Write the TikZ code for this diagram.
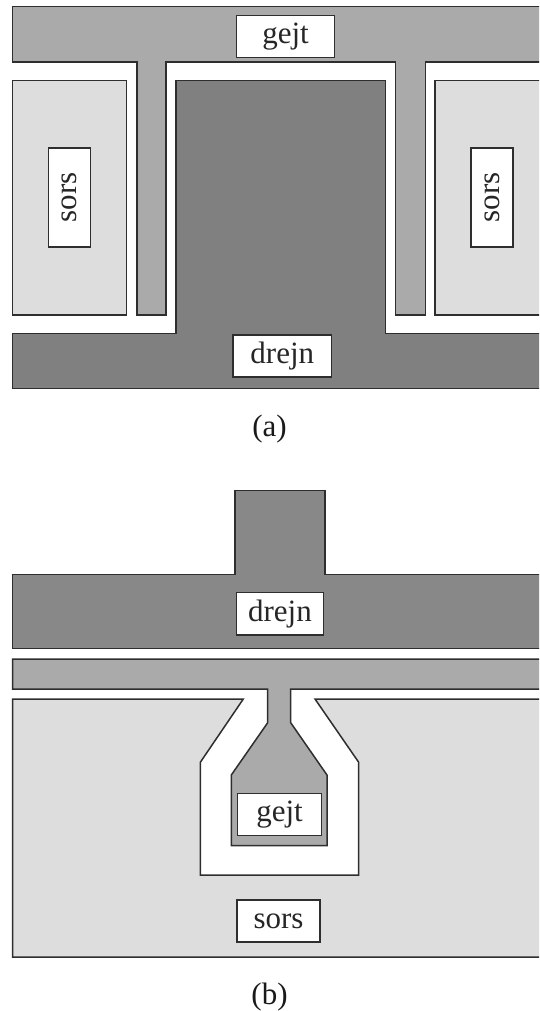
\documentclass[tikz,border=0pt]{standalone}
\usepackage{fontspec}
\setmainfont{Liberation Serif}
\definecolor{gatec}{HTML}{AAAAAA}
\definecolor{drainc}{HTML}{808080}
\definecolor{drainb}{HTML}{888888}
\definecolor{sourcec}{HTML}{DDDDDD}
\definecolor{edgec}{HTML}{2E2E2E}
\tikzset{
  region/.style={draw=edgec,line width=1.5pt,line join=miter},
  tag/.style={draw=edgec,fill=white,line width=1.4pt,inner sep=0pt,font=\fontsize{31}{36}\selectfont,text=black!85},
  caption/.style={inner sep=0pt,font=\fontsize{31}{36}\selectfont,text=black!90}
}
\begin{document}
\begin{tikzpicture}[x=1pt,y=-1pt]
\useasboundingbox (0,0) rectangle (539,1011);
\clip (0,0) rectangle (539,1011);
% (a)
\path[region,fill=gatec] (550,6.5) -- (12.5,6.5) -- (12.5,62) -- (136.8,62) -- (136.8,315) -- (165.8,315) -- (165.8,62) -- (395.5,62) -- (395.5,315) -- (425.5,315) -- (425.5,62) -- (550,62);
\path[region,fill=sourcec] (12.5,80.5) rectangle (126.5,315);
\path[region,fill=sourcec] (550,80.5) -- (435,80.5) -- (435,315) -- (550,315);
\path[region,fill=drainc] (176,80.5) -- (385.7,80.5) -- (385.7,333.5) -- (550,333.5) -- (550,388.7) -- (12.5,388.7) -- (12.5,333.5) -- (176,333.5) -- cycle;
\node[tag,minimum width=98pt,minimum height=42pt] (gejtA) at (285.6,36.5) {gejt};
\node[tag,rotate=90,minimum width=99pt,minimum height=42pt] (sorsL) at (69.5,197.5) {sors};
\node[tag,rotate=90,minimum width=99pt,minimum height=42pt] (sorsR) at (492,197.5) {sors};
\node[tag,minimum width=98.5pt,minimum height=42pt] (drejnA) at (282.3,356) {\raisebox{-2pt}{drejn}};
\node[caption] (capA) at (269.5,429) {(a)};
% (b)
\path[region,fill=drainb] (235,574.7) -- (235,490.7) -- (325,490.7) -- (325,574.7) -- (550,574.7) -- (550,648.3) -- (12.5,648.3) -- (12.5,574.7) -- cycle;
\node[tag,minimum width=87.4pt,minimum height=42.7pt] (drejnB) at (280,613.6) {\raisebox{-2pt}{drejn}};
\path[region,fill=sourcec] (550,699) -- (315,699) -- (358.7,762.3) -- (358.7,875) -- (200.3,875) -- (200.3,762.3) -- (243.3,699) -- (12.5,699) -- (12.5,957) -- (550,957);
\path[region,fill=gatec] (550,659) -- (12.5,659) -- (12.5,689) -- (267.7,689) -- (267.7,722.7) -- (231.3,775) -- (231.3,845.7) -- (327,845.7) -- (327,775) -- (290.7,722.7) -- (290.7,689) -- (550,689);
\node[tag,minimum width=83.6pt,minimum height=42pt] (gejtB) at (279.5,814.7) {gejt};
\node[tag,minimum width=83pt,minimum height=42pt] (sorsB) at (278.5,921) {sors};
\node[caption] (capB) at (269.5,997) {(b)};
\end{tikzpicture}
\end{document}
